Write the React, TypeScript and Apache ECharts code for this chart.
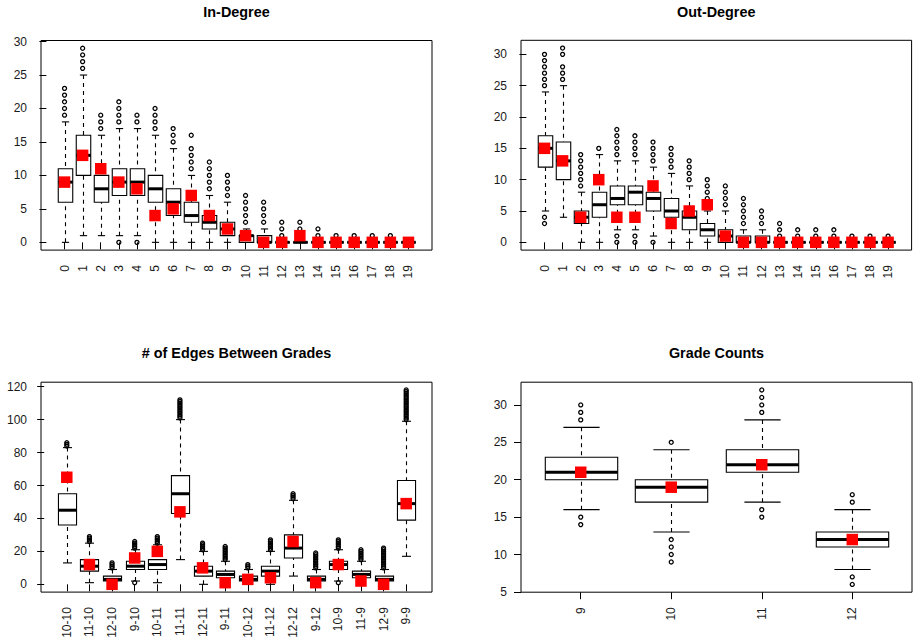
import React, { useEffect, useRef } from "react";
import * as echarts from "echarts";

// ---------- In-Degree ----------
const inCats = ["0","1","2","3","4","5","6","7","8","9","10","11","12","13","14","15","16","17","18","19"];
const inLo  = [0,1,1,1,1,0,0,0,0,0,0,0,0,0,0,0,0,0,0,0];
const inQ1  = [6,10,6,7,7,6,4,3,2,1,0,0,0,0,0,0,0,0,0,0];
const inMed = [9,13,8,9,9,8,6,4,3,2,1,0,0,0,0,0,0,0,0,0];
const inQ3  = [11,16,10,11,11,10,8,6,4,3,1,1,0,0,0,0,0,0,0,0];
const inHi  = [18,25,16,17,17,16,14,10,7,6,2,2,0,0,0,0,0,0,0,0];
const inOut = [
  [19,20,21,22,23],[26,27,28,29],[17,18,19],[0,18,19,20,21],[0,18,19],
  [17,18,19,20],[15,16,17],[11,12,13,14,16],[8,9,10,11,12],[7,8,9,10],
  [3,4,5,6,7],[3,4,5,6],[1,2,3],[1,2,3],[1,2],[1],[1],[1],[1],[],
];
const inObs = [9,13,11,9,8,4,5,7,4,2,1,0,0,1,0,0,0,0,0,0];
const inTicks = [0,5,10,15,20,25,30];

// ---------- Out-Degree ----------
const outCats = ["0","1","2","3","4","5","6","7","8","9","10","11","12","13","14","15","16","17","18","19"];
const outLo  = [5,4,0,0,2,2,1,0,0,0,0,0,0,0,0,0,0,0,0,0];
const outQ1  = [12,10,3,4,6,6,5,4,2,1,0,0,0,0,0,0,0,0,0,0];
const outMed = [15,13,4,6,7,8,7,5,4,2,1,0,0,0,0,0,0,0,0,0];
const outQ3  = [17,16,5,8,9,9,8,7,5,3,2,1,1,0,0,0,0,0,0,0];
const outHi  = [24,25,8,14,13,13,12,11,9,5,5,2,2,0,0,0,0,0,0,0];
const outOut = [
  [3,4,25,26,27,28,29,30],[26,27,28,30,31],[9,10,11,12,13,14],[15],[0,1,14,15,16,17,18],
  [0,1,14,15,16,17],[0,13,14,15,16],[12,13,14,15],[10,11,12,13],[6,7,8,9,10],
  [6,7,8,9],[3,4,5,6,7],[3,4,5],[1,2,3],[1,2],[1,2],[1,2],[1],[1],[1],
];
const outObs = [15,13,4,10,4,4,9,3,5,6,1,0,0,0,0,0,0,0,0,0];
const outTicks = [0,5,10,15,20,25,30];

// ---------- # of Edges Between Grades ----------
const edgeCats = ["10-10","11-10","12-10","9-10","10-11","11-11","12-11","9-11","10-12","11-12","12-12","9-12","10-9","11-9","12-9","9-9"];
const edgeLo  = [13,1,0,2,1,15,0,0,0,0,5,0,2,0,0,17];
const edgeQ1  = [36,8,2,9,9,43,5,4,2,5,16,2,9,4,2,39];
const edgeMed = [45,11,3,11,12,55,8,6,3,8,22,3,12,6,3,49];
const edgeQ3  = [55,15,5,14,15,66,11,8,5,11,30,5,14,8,5,63];
const edgeHi  = [83,25,9,21,24,100,20,14,9,20,51,9,21,14,9,99];
const edgeOut = [
  [84,85,86],
  [26,27,28,29],
  [10,11,12,13],
  [1,22,23,24,25,26],
  [25,26,27,28,29],
  [101,102,103,104,105,106,107,108,109,110,111,112],
  [21,22,23,24,25],
  [15,16,17,18,19,20,21,22,23],
  [10,11,12],
  [21,22,23,24,25,26,27],
  [52,53,54,55],
  [10,11,12,13,14,15,16,17,18,19],
  [1,22,23,24,25,26,27],
  [15,16,17,18,19,20,21],
  [10,11,12,13,14,15,16,17,18,19,20,21,22],
  [100,101,102,103,104,105,106,107,108,109,110,111,112,113,114,115,116,117,118],
];
const edgeObs = [65,12,0,16,20,44,10,1,3,4,26,1,12,2,0,49];
const edgeTicks = [0,20,40,60,80,100,120];

// ---------- Grade Counts ----------
const gradeCats = ["9","10","11","12"];
const gradeLo  = [16,13,17,8];
const gradeQ1  = [20,17,21,11];
const gradeMed = [21,19,22,12];
const gradeQ3  = [23,20,24,13];
const gradeHi  = [27,24,28,16];
const gradeOut = [[14,15,28,29,30],[9,10,11,12,25],[15,16,29,30,31,32],[6,7,17,18]];
const gradeObs = [21,19,22,12];
const gradeTicks = [5,10,15,20,25,30];

const FONT = "'Liberation Sans', Arial, Helvetica, sans-serif";
const TXT = "#1a1a1a";

const GRIDS = [
  { left: 41, top: 40.5, width: 391, height: 209.6 },
  { left: 521, top: 40.3, width: 390.6, height: 209.8 },
  { left: 41, top: 382.2, width: 391, height: 209.9 },
  { left: 521, top: 382.2, width: 391, height: 210 },
];
const TITLES = ["In-Degree", "Out-Degree", "# of Edges Between Grades", "Grade Counts"];
const TITLE_Y = [11.5, 11.5, 353, 352.5];

const PANELS = [
  { cats: inCats, lo: inLo, q1: inQ1, med: inMed, q3: inQ3, hi: inHi, out: inOut, obs: inObs, ticks: inTicks },
  { cats: outCats, lo: outLo, q1: outQ1, med: outMed, q3: outQ3, hi: outHi, out: outOut, obs: outObs, ticks: outTicks },
  { cats: edgeCats, lo: edgeLo, q1: edgeQ1, med: edgeMed, q3: edgeQ3, hi: edgeHi, out: edgeOut, obs: edgeObs, ticks: edgeTicks },
  { cats: gradeCats, lo: gradeLo, q1: gradeQ1, med: gradeMed, q3: gradeQ3, hi: gradeHi, out: gradeOut, obs: gradeObs, ticks: gradeTicks },
];

function renderBox(_params: any, api: any) {
  const x = api.value(0);
  const lo = api.value(1), q1 = api.value(2), md = api.value(3), q3 = api.value(4), hi = api.value(5);
  const unit = api.size([1, 0])[0];
  const cx = Math.round(api.coord([x, md])[0]) + 0.5;
  const Y = (v: number) => api.coord([x, v])[1];
  const hb = 0.4 * unit;
  const hc = 0.2 * unit;
  const thin = { stroke: "#000", lineWidth: 1.1 };
  const dash = { stroke: "#000", lineWidth: 1.1, lineDash: [4, 4] };
  return {
    type: "group",
    children: [
      { type: "line", shape: { x1: cx, y1: Y(lo), x2: cx, y2: Y(q1) }, style: dash },
      { type: "line", shape: { x1: cx, y1: Y(hi), x2: cx, y2: Y(q3) }, style: dash },
      { type: "line", shape: { x1: cx - hc, y1: Y(lo), x2: cx + hc, y2: Y(lo) }, style: thin },
      { type: "line", shape: { x1: cx - hc, y1: Y(hi), x2: cx + hc, y2: Y(hi) }, style: thin },
      {
        type: "rect",
        shape: { x: cx - hb, y: Y(q3), width: 2 * hb, height: Y(q1) - Y(q3) },
        style: { stroke: "#000", lineWidth: 1.1, fill: "#fff" },
      },
      {
        type: "line",
        shape: { x1: cx - hb, y1: Y(md), x2: cx + hb, y2: Y(md) },
        style: { stroke: "#000", lineWidth: 3, lineCap: "butt" },
      },
    ],
  };
}

function buildOption() {
  const grid: any[] = [];
  const xAxis: any[] = [];
  const yAxis: any[] = [];
  const series: any[] = [];
  const graphic: any[] = [];

  PANELS.forEach((p, i) => {
    const n = p.cats.length;
    const pos = p.cats.map((_, k) => k + 1);
    const allVals: number[] = [...p.lo, ...p.hi, ...p.out.flat()];
    const dMin = Math.min(...allVals);
    const dMax = Math.max(...allVals);
    const r = dMax - dMin;
    const g = GRIDS[i];

    grid.push({
      ...g,
      show: true,
      borderColor: "#000",
      borderWidth: 1,
      backgroundColor: "rgba(0,0,0,0)",
      containLabel: false,
      outerBoundsMode: "none",
    });

    xAxis.push({
      type: "value",
      gridIndex: i,
      min: 0.5 - 0.04 * n,
      max: n + 0.5 + 0.04 * n,
      axisLine: { show: false },
      splitLine: { show: false },
      axisTick: { show: true, inside: false, length: 7, customValues: pos, lineStyle: { color: "#000", width: 1 } },
      axisLabel: {
        show: true,
        customValues: pos,
        rotate: 90,
        margin: 15,
        fontSize: 12,
        fontFamily: FONT,
        color: TXT,
        formatter: (v: number) => p.cats[Math.round(v) - 1] ?? "",
      },
    });

    yAxis.push({
      type: "value",
      gridIndex: i,
      min: dMin - 0.04 * r,
      max: dMax + 0.04 * r,
      axisLine: { show: false },
      splitLine: { show: false },
      axisTick: { show: true, inside: false, length: 7, customValues: p.ticks, lineStyle: { color: "#000", width: 1 } },
      axisLabel: {
        show: true,
        customValues: p.ticks,
        margin: 14,
        fontSize: 12,
        fontFamily: FONT,
        color: TXT,
      },
    });

    series.push({
      type: "custom",
      xAxisIndex: i,
      yAxisIndex: i,
      renderItem: renderBox,
      encode: { x: 0, y: [1, 2, 3, 4, 5] },
      data: pos.map((x, k) => [x, p.lo[k], p.q1[k], p.med[k], p.q3[k], p.hi[k]]),
      silent: true,
      z: 2,
    });

    const outPts: number[][] = [];
    p.out.forEach((arr, k) => arr.forEach((v) => outPts.push([k + 1, v])));
    series.push({
      type: "scatter",
      xAxisIndex: i,
      yAxisIndex: i,
      data: outPts,
      symbol: "circle",
      symbolSize: 4,
      itemStyle: { color: "rgba(0,0,0,0)", borderColor: "#000", borderWidth: 1.3, opacity: 1 },
      silent: true,
      z: 3,
    });

    series.push({
      type: "scatter",
      xAxisIndex: i,
      yAxisIndex: i,
      data: p.obs.map((v, k) => [k + 1, v]),
      symbol: "rect",
      symbolSize: 11.5,
      itemStyle: { color: "#ff0000", opacity: 1 },
      silent: true,
      z: 4,
    });

    graphic.push({
      type: "text",
      x: g.left + g.width / 2,
      y: TITLE_Y[i],
      style: {
        text: TITLES[i],
        fontSize: 14.4,
        fontWeight: "bold",
        fontFamily: FONT,
        fill: "#000",
        textAlign: "center",
        textVerticalAlign: "middle",
      },
    });
  });

  return {
    animation: false,
    backgroundColor: "#fff",
    grid,
    xAxis,
    yAxis,
    series,
    graphic,
  };
}

export default function App() {
  const ref = useRef<HTMLDivElement>(null);
  useEffect(() => {
    if (!ref.current) return;
    const chart = echarts.init(ref.current, null, { renderer: "svg" });
    chart.setOption(buildOption() as any);
    return () => chart.dispose();
  }, []);
  return (
    <div
      ref={ref}
      style={{ position: "absolute", left: 0, top: 0, width: 916, height: 640, background: "#fff" }}
    />
  );
}
